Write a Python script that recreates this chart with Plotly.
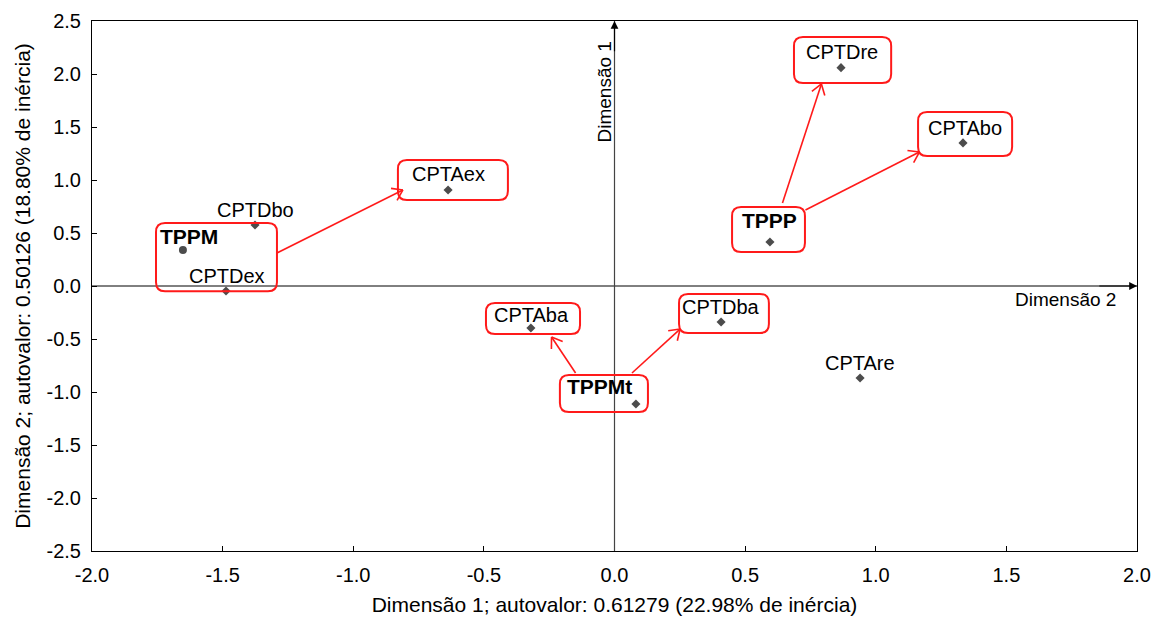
import math
import plotly.graph_objects as go

# ---- data ----
labels = ["CPTDre", "CPTAbo", "CPTAex", "CPTDbo", "TPPM", "CPTDex",
          "TPPP", "CPTAba", "CPTDba", "TPPMt", "CPTAre"]
dim1 = [0.867, 1.334, -0.637, -1.376, -1.652, -1.487,
        0.595, -0.320, 0.408, 0.082, 0.940]
dim2 = [2.06, 1.35, 0.906, 0.575, 0.34, -0.047,
        0.415, -0.396, -0.340, -1.113, -0.868]
bold = {"TPPM", "TPPMt", "TPPP"}
x_ticks = [-2.0, -1.5, -1.0, -0.5, 0.0, 0.5, 1.0, 1.5, 2.0]
y_ticks = [-2.5, -2.0, -1.5, -1.0, -0.5, 0.0, 0.5, 1.0, 1.5, 2.0, 2.5]

# label offsets (pixels) relative to each point
label_shift = {
    "CPTDre": (1, 16), "CPTAbo": (2, 15), "CPTAex": (0, 16), "CPTDbo": (0, 15),
    "TPPM": (6, 13), "CPTDex": (1, 15), "TPPP": (0, 22), "CPTAba": (1, 13),
    "CPTDba": (0, 15), "TPPMt": (-36, 17), "CPTAre": (0, 15),
}

# red rounded boxes (data extents: x0, x1, y0, y1)
boxes = [
    (-1.755, -1.292, -0.050, 0.594),
    (-0.829, -0.408, 0.811, 1.189),
    (-0.492, -0.132, -0.453, -0.160),
    (0.247, 0.591, -0.443, -0.075),
    (-0.209, 0.128, -1.189, -0.840),
    (0.687, 1.059, 1.915, 2.349),
    (1.162, 1.522, 1.226, 1.642),
    (0.450, 0.729, 0.321, 0.745),
]
# red arrows (from x, from y, to x, to y)
arrows = [
    (-1.292, 0.311, -0.810, 0.906),
    (-0.149, -0.821, -0.241, -0.481),
    (0.067, -0.821, 0.251, -0.406),
    (0.643, 0.783, 0.792, 1.906),
    (0.731, 0.717, 1.167, 1.264),
]

XPX = 261.25  # px per x unit
YPX = 106.0   # px per y unit
FONT = "Arial, Liberation Sans, sans-serif"


def rounded_path(x0, x1, y0, y1, r=9):
    rx, ry = r / XPX, r / YPX
    return (f"M {x0+rx},{y0} L {x1-rx},{y0} Q {x1},{y0} {x1},{y0+ry} "
            f"L {x1},{y1-ry} Q {x1},{y1} {x1-rx},{y1} L {x0+rx},{y1} "
            f"Q {x0},{y1} {x0},{y1-ry} L {x0},{y0+ry} Q {x0},{y0} {x0+rx},{y0} Z")


fig = go.Figure()

fig.add_trace(go.Scatter(
    x=dim1, y=dim2, mode="markers",
    marker=dict(symbol=["circle" if l == "TPPM" else "diamond" for l in labels],
                size=[8 if l == "TPPM" else 7 for l in labels], color="black",
                line=dict(width=0)),
    hoverinfo="text", text=labels, showlegend=False,
))

shapes = []
# center axis lines
shapes.append(dict(type="line", xref="x", yref="y", x0=-2, x1=2, y0=0, y1=0,
                   line=dict(color="black", width=1)))
shapes.append(dict(type="line", xref="x", yref="y", x0=0, x1=0, y0=-2.5, y1=2.5,
                   line=dict(color="#444", width=1.2)))
for (x0, x1, y0, y1) in boxes:
    shapes.append(dict(type="path", xref="x", yref="y", path=rounded_path(x0, x1, y0, y1),
                       line=dict(color="#ff1a1a", width=2), fillcolor="rgba(0,0,0,0)"))

# arrows: line + open V head
for (ax0, ay0, ax1, ay1) in arrows:
    shapes.append(dict(type="line", xref="x", yref="y", x0=ax0, y0=ay0, x1=ax1, y1=ay1,
                       line=dict(color="#ff1a1a", width=1.6)))
    dx, dy = (ax1 - ax0) * XPX, (ay1 - ay0) * YPX
    ang = math.atan2(dy, dx)
    for s in (1, -1):
        a = ang + math.pi - s * 0.6
        hx = ax1 + 12 * math.cos(a) / XPX
        hy = ay1 + 12 * math.sin(a) / YPX
        shapes.append(dict(type="line", xref="x", yref="y", x0=ax1, y0=ay1, x1=hx, y1=hy,
                           line=dict(color="#ff1a1a", width=1.6)))

annotations = []
for l, xv, yv in zip(labels, dim1, dim2):
    sx, sy = label_shift[l]
    annotations.append(dict(
        x=xv, y=yv, xref="x", yref="y", showarrow=False,
        text=f"<b>{l}</b>" if l in bold else l,
        xshift=sx, yshift=sy,
        font=dict(family=FONT, size=21 if l in bold else 20, color="black"),
    ))
# axis-end arrowheads
annotations.append(dict(x=0, y=2.5, ax=0, ay=2.2, xref="x", yref="y", axref="x", ayref="y",
                        showarrow=True, arrowhead=2, arrowsize=1.3, arrowwidth=1.2,
                        arrowcolor="black", text=""))
annotations.append(dict(x=2, y=0, ax=1.85, ay=0, xref="x", yref="y", axref="x", ayref="y",
                        showarrow=True, arrowhead=2, arrowsize=1.3, arrowwidth=1.2,
                        arrowcolor="black", text=""))
annotations.append(dict(x=0, y=2.5, xref="x", yref="y", text="Dimensão 1", textangle=-90,
                        showarrow=False, xshift=-11, yshift=-71,
                        font=dict(family=FONT, size=19, color="black")))
annotations.append(dict(x=2, y=0, xref="x", yref="y", text="Dimensão 2",
                        showarrow=False, xanchor="right", xshift=-19, yshift=-13,
                        font=dict(family=FONT, size=19, color="black")))

# the page body has an 8px margin, so margins are reduced by 8px on the left/top
fig.update_layout(
    width=1165, height=621,
    margin=dict(l=84, r=36, t=13, b=78),
    paper_bgcolor="white", plot_bgcolor="white",
    shapes=shapes, annotations=annotations,
    font=dict(family=FONT, size=20, color="black"),
)
fig.update_xaxes(
    range=[-2, 2], tickvals=x_ticks, ticktext=[f"{v:.1f}" for v in x_ticks],
    ticks="inside", ticklen=5, tickcolor="black", showgrid=False, zeroline=False,
    showline=True, linecolor="black", linewidth=1, mirror=True, automargin=False,
    tickfont=dict(family=FONT, size=20), ticklabelstandoff=6,
    title=dict(text="Dimensão 1; autovalor: 0.61279 (22.98% de inércia)",
               font=dict(family=FONT, size=21), standoff=12),
)
fig.update_yaxes(
    range=[-2.5, 2.5], tickvals=y_ticks, ticktext=[f"{v:.1f}" for v in y_ticks],
    ticks="inside", ticklen=5, tickcolor="black", showgrid=False, zeroline=False,
    showline=True, linecolor="black", linewidth=1, mirror=True, automargin=False,
    tickfont=dict(family=FONT, size=20), ticklabelstandoff=6,
    title=dict(text="Dimensão 2; autovalor: 0.50126 (18.80% de inércia)",
               font=dict(family=FONT, size=21), standoff=10),
)

fig.write_html("out.html")
